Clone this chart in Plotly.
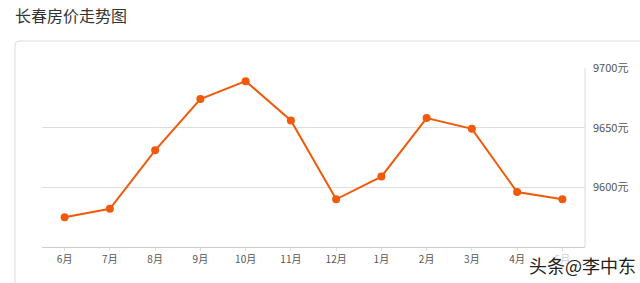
import plotly.graph_objects as go

months = ["6月", "7月", "8月", "9月", "10月", "11月", "12月", "1月", "2月", "3月", "4月", "5月"]
prices = [9575, 9582, 9631, 9674, 9689, 9656, 9590, 9609, 9658, 9649, 9596, 9590]
y_ticks = [9600, 9650, 9700]
y_tick_text = [f"{v}元" for v in y_ticks]

W, H = 640, 283
L, R, T, B = 42, 55, 68, 36
pw, ph = W - L - R, H - T - B

def px(x):
    return (x - L) / pw

def py(y):
    return (H - B - y) / ph

font = "Noto Sans CJK SC, Microsoft YaHei, sans-serif"

fig = go.Figure()
fig.add_trace(go.Scatter(
    x=months, y=prices, mode="lines+markers",
    line=dict(color="#f15a0b", width=2),
    marker=dict(color="#f15a0b", size=8),
    hoverinfo="skip",
))

r = 4
path = (f"M {px(15)} {py(H+5)} L {px(15)} {py(41 + r)} "
        f"Q {px(15)} {py(41)} {px(15 + r)} {py(41)} L {px(W + 5)} {py(41)}")
shapes = [
    dict(type="path", xref="paper", yref="paper", path=path,
         line=dict(color="#dcdcdc", width=1), layer="below"),
    dict(type="line", xref="paper", yref="paper", x0=1, x1=1, y0=0, y1=1,
         line=dict(color="#dcdcdc", width=1), layer="below"),
]

fig.update_layout(
    width=W, height=H,
    margin=dict(l=L, r=R, t=T, b=B),
    paper_bgcolor="white", plot_bgcolor="white",
    showlegend=False,
    font=dict(family=font, size=10, color="#555"),
    shapes=shapes,
    xaxis=dict(
        type="category", range=[-0.5, len(months) - 0.5],
        showgrid=False, showline=True, linecolor="#cccccc", linewidth=1,
        ticks="outside", ticklen=3, tickcolor="#dddddd",
        tickfont=dict(size=10, color="#555"), zeroline=False,
    ),
    yaxis=dict(
        side="right", range=[9550, 9700], tickmode="array",
        tickvals=y_ticks, ticktext=y_tick_text,
        showgrid=True, gridcolor="#dddddd", gridwidth=1,
        showline=False, zeroline=False, ticks="", ticklabelstandoff=7,
        tickfont=dict(size=11, color="#555"),
    ),
    annotations=[
        dict(text="长春房价走势图", xref="paper", yref="paper",
             x=px(13), y=py(15), xanchor="left", yanchor="middle",
             showarrow=False, font=dict(family=font, size=16, color="#333")),
        dict(text="头条@李中东", xref="paper", yref="paper",
             x=px(528), y=py(265), xanchor="left", yanchor="middle",
             showarrow=False, bgcolor="rgba(255,255,255,0.7)", borderpad=0,
             font=dict(family=font, size=18, color="#222")),
    ],
)

fig.write_html("out.html")
